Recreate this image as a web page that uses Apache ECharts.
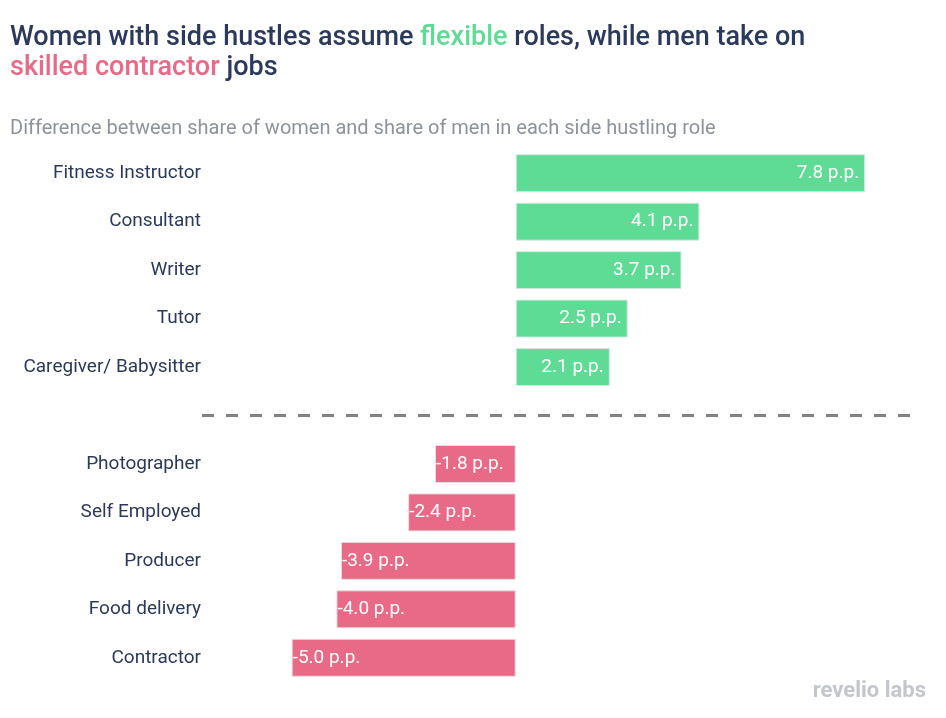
<!DOCTYPE html>
<html>
<head>
<meta charset="utf-8">
<script src="https://cdn.jsdelivr.net/npm/echarts@6/dist/echarts.min.js"></script>
<style>html,body{margin:0;padding:0;background:#fff}#c{width:946px;height:718px}</style>
</head>
<body>
<div id="c"></div>
<script>
const categories = ['Fitness Instructor','Consultant','Writer','Tutor','Caregiver/ Babysitter','','Photographer','Self Employed','Producer','Food delivery','Contractor'];
const values = [7.8, 4.1, 3.7, 2.5, 2.1, null, -1.8, -2.4, -3.9, -4.0, -5.0];
const separatorIndex = 5;

const GREEN = '#5edb95';
const PINK = '#e86a87';
const NAVY = '#2b3a5c';

const posData = values.map(v => (v !== null && v > 0) ? v : '-');
const negData = values.map(v => (v !== null && v < 0) ? v : '-');

const chart = echarts.init(document.getElementById('c'));
const labelFmt = p => p.value.toFixed(1) + ' p.p.';
chart.setOption({
  animation: false,
  textStyle: { fontFamily: 'Roboto' },
  title: [{
    left: 5, top: 18,
    text: '{a|Women with side hustles assume }{g|flexible}{a| roles, while men take on}\n{p|skilled contractor}{a| jobs}',
    textStyle: {
      rich: {
        a: { fontFamily: 'Roboto', fontSize: 27, fontWeight: 500, color: NAVY, lineHeight: 30 },
        g: { fontFamily: 'Roboto', fontSize: 27, fontWeight: 500, color: GREEN, lineHeight: 30 },
        p: { fontFamily: 'Roboto', fontSize: 27, fontWeight: 500, color: PINK, lineHeight: 30 }
      }
    }
  }, {
    left: 5, top: 114,
    text: 'Difference between share of women and share of men in each side hustling role',
    textStyle: { fontFamily: 'Roboto', fontSize: 20, fontWeight: 'normal', color: '#8d939b' }
  }],
  grid: { left: 202, right: 27, top: 149, bottom: 36, containLabel: false },
  xAxis: { type: 'value', min: -7, max: 9, show: false },
  yAxis: {
    type: 'category', data: categories, inverse: true,
    axisLine: { show: false }, axisTick: { show: false }, splitLine: { show: false },
    axisLabel: { color: NAVY, fontSize: 19, fontFamily: 'Roboto', margin: 1 }
  },
  series: [{
    type: 'bar', data: posData, barWidth: 38, barGap: '-100%',
    itemStyle: { color: GREEN, borderColor: '#dbe9e3', borderWidth: 1 },
    label: { show: true, position: 'insideRight', distance: 6, color: '#fff', fontSize: 19, fontFamily: 'Roboto', formatter: labelFmt },
    markLine: {
      silent: true, symbol: 'none', label: { show: false },
      lineStyle: { color: '#808080', width: 3, type: [12, 12] },
      data: [{ yAxis: separatorIndex }]
    }
  }, {
    type: 'bar', data: negData, barWidth: 38, barGap: '-100%',
    itemStyle: { color: PINK, borderColor: '#eadde3', borderWidth: 1 },
    label: { show: true, position: 'insideLeft', distance: 1, color: '#fff', fontSize: 19, fontFamily: 'Roboto', formatter: labelFmt }
  }],
  graphic: [{
    type: 'text', right: 20, bottom: 16,
    style: { text: 'revelio labs', fontFamily: 'Roboto', fontSize: 22, fontWeight: 'bold', fill: '#c3c6cc' }
  }]
});
</script>
</body>
</html>
